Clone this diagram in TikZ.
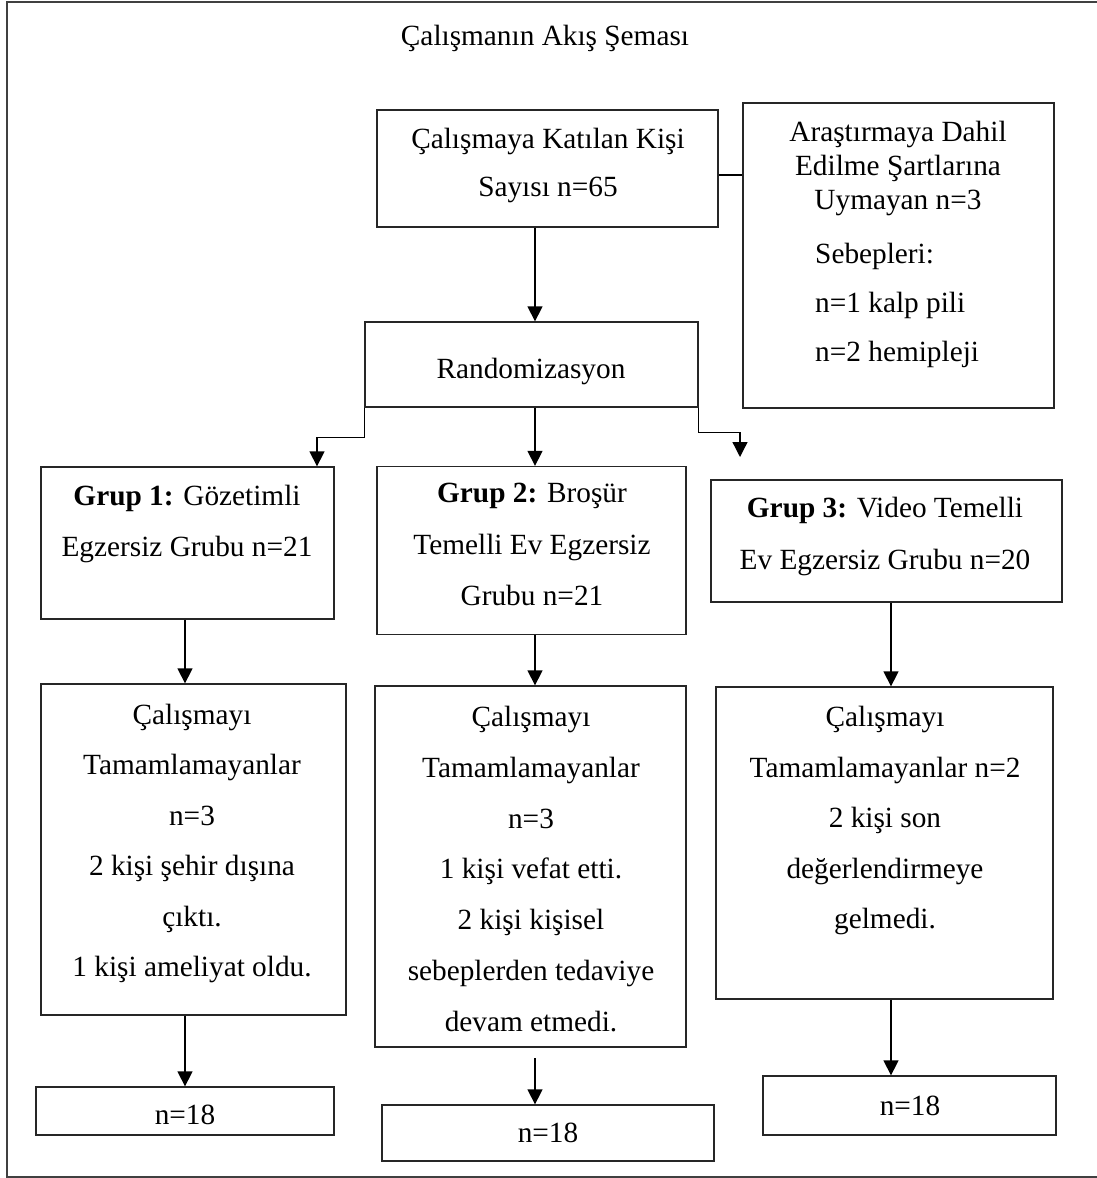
\documentclass[tikz,border=0pt]{standalone}
\usepackage{fontspec}
\setmainfont{Liberation Serif}
\usetikzlibrary{arrows.meta}
\begin{document}
\begin{tikzpicture}[x=1pt,y=-1pt,
 box/.style={draw=black!85, line width=1.3pt, inner sep=0pt, rectangle},
 txt/.style={font=\fontsize{29.3}{#1}\selectfont, align=center, inner sep=0pt, anchor=north},
 txt/.default=51,
 arr/.style={draw=black, line width=1.3pt, -{Triangle[width=15pt,length=15pt]}},
 ln/.style={draw=black, line width=1.3pt}]
\useasboundingbox (0,0) rectangle (1097,1178);
\draw[line width=1.3pt, draw=black!75] (1105,2) -- (7,2) -- (7,1177) -- (1105,1177);

% boxes
\node[box, minimum width=341, minimum height=117] (A) at (547.5,168.5) {};
\node[box, minimum width=311, minimum height=305] (B) at (898.5,255.5) {};
\node[box, minimum width=333, minimum height=85] (R) at (531.5,364.5) {};
\node[box, minimum width=293, minimum height=152] (G1) at (187.5,543) {};
\node[box, minimum width=309, minimum height=168] (G2) at (531.5,550.5) {};
\node[box, minimum width=351, minimum height=122] (G3) at (886.5,541) {};
\node[box, minimum width=305, minimum height=331] (D1) at (193.5,849.5) {};
\node[box, minimum width=311, minimum height=361] (D2) at (530.5,866.5) {};
\node[box, minimum width=337, minimum height=312] (D3) at (884.5,843) {};
\node[box, minimum width=298, minimum height=48] (E1) at (185,1111) {};
\node[box, minimum width=332, minimum height=56] (E2) at (548,1133) {};
\node[box, minimum width=293, minimum height=59] (E3) at (909.5,1105.5) {};

% texts
\node[txt] (tT) at (545,25) {Çalışmanın Akış Şeması};
\node[txt=48] (tA) at (548,128) {Çalışmaya Katılan Kişi\\Sayısı n=65};
\node[txt=34] (tB1) at (898,121) {Araştırmaya Dahil\\Edilme Şartlarına\\Uymayan n=3};
\node[txt=49, align=left, anchor=north west] (tB2) at (815,243) {Sebepleri:\\n=1 kalp pili\\n=2 hemipleji};
\node[txt] (tR) at (531,358) {Randomizasyon};
\node[txt=51] (tG1) at (187,485) {\textbf{Grup 1:} Gözetimli\\Egzersiz Grubu n=21};
\node[txt=51.5] (tG2) at (532,483) {\textbf{Grup 2:} Broşür\\Temelli Ev Egzersiz\\Grubu n=21};
\node[txt=52] (tG3) at (885,497) {\textbf{Grup 3:} Video Temelli\\Ev Egzersiz Grubu n=20};
\node[txt=50.4] (tD1) at (192,704) {Çalışmayı\\Tamamlamayanlar\\n=3\\2 kişi şehir dışına\\çıktı.\\1 kişi ameliyat oldu.};
\node[txt=50.8] (tD2) at (531,706) {Çalışmayı\\Tamamlamayanlar\\n=3\\1 kişi vefat etti.\\2 kişi kişisel\\sebeplerden tedaviye\\devam etmedi.};
\node[txt=50.5] (tD3) at (885,706) {Çalışmayı\\Tamamlamayanlar n=2\\2 kişi son\\değerlendirmeye\\gelmedi.};
\node[txt] (tE1) at (185,1105) {n=18};
\node[txt] (tE2) at (548,1123) {n=18};
\node[txt] (tE3) at (910,1096) {n=18};

% helper coordinates
\coordinate (yAB) at (0,175);
\coordinate (xm) at (535,0);
\coordinate (xl) at (317,0);
\coordinate (x1) at (185,0);
\coordinate (x3) at (891,0);
\coordinate (c3) at (740,457);
\coordinate (s2) at (535,1058);

% connectors
\draw[ln] (A.east |- yAB) -- (B.west |- yAB);
\draw[arr] (A.south -| xm) -- (R.north -| xm);
\draw[arr] (R.south west) -- ++(0,30) -| (G1.north -| xl);
\draw[arr] (R.south -| xm) -- (G2.north -| xm);
\draw[arr] (R.south east) -- ++(0,25) -| (c3);
\draw[arr] (G1.south -| x1) -- (D1.north -| x1);
\draw[arr] (G2.south -| xm) -- (D2.north -| xm);
\draw[arr] (G3.south -| x3) -- (D3.north -| x3);
\draw[arr] (D1.south -| x1) -- (E1.north -| x1);
\draw[arr] (s2) -- (E2.north -| s2);
\draw[arr] (D3.south -| x3) -- (E3.north -| x3);
\end{tikzpicture}
\end{document}
